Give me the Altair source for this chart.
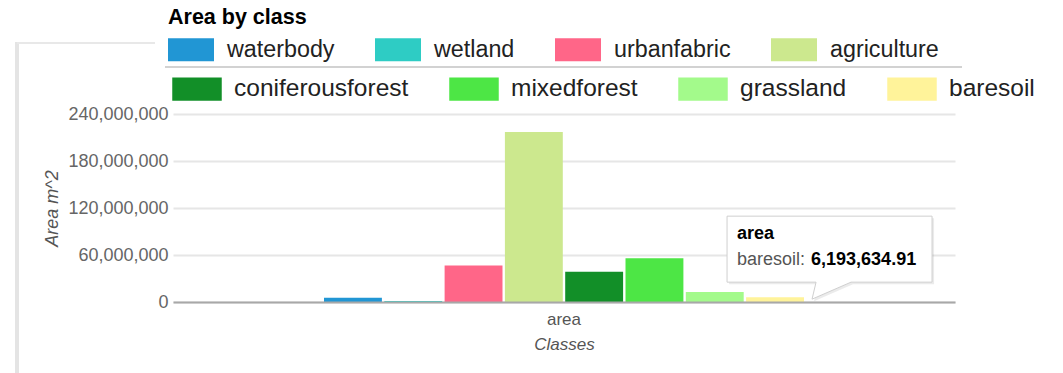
import altair as alt
import pandas as pd

# Land-cover classes and their total area (m^2)
classes = ["waterbody", "wetland", "urbanfabric", "agriculture",
           "coniferousforest", "mixedforest", "grassland", "baresoil"]
area_m2 = [5_500_000, 1_200_000, 46_500_000, 217_000_000,
           38_500_000, 56_000_000, 12_800_000, 6_193_634.91]
class_colors = ["#2196D4", "#2ECCC4", "#FF6688", "#CCE88E",
                "#128F28", "#4DE645", "#A3FA8B", "#FFF39A"]
y_ticks = [0, 60_000_000, 120_000_000, 180_000_000, 240_000_000]
group_name = "area"
hovered = "baresoil"

# the legend is laid out in two rows of four classes
row_one, row_two = classes[:4], classes[4:]
colors_one, colors_two = class_colors[:4], class_colors[4:]

df = pd.DataFrame({"group": group_name, "cls": classes, "value": area_m2})

FONT = "Liberation Sans"

x_enc = alt.X("group:N", title="Classes",
              scale=alt.Scale(paddingOuter=0.3146, paddingInner=0),
              axis=alt.Axis(labelAngle=0, ticks=False, domain=True,
                            domainColor="#a8a8a8", domainWidth=2,
                            labelFontSize=17, labelColor="#555",
                            labelPadding=9, titleFontSize=17,
                            titleFontStyle="italic", titleFontWeight="normal",
                            titleColor="#555", titlePadding=9, zindex=1))
xo_enc = alt.XOffset("cls:N", sort=classes,
                     scale=alt.Scale(domain=classes, paddingInner=0.04,
                                     paddingOuter=0))
y_enc = alt.Y("value:Q", title="Area m^2",
              scale=alt.Scale(domain=[0, 240_000_000], nice=False),
              axis=alt.Axis(values=y_ticks, format=",d", ticks=False,
                            domain=False, grid=True, gridColor="#e6e6e6",
                            gridWidth=2, labelFontSize=18,
                            labelColor="#666", labelPadding=5,
                            titleFontSize=18, titleFontStyle="italic",
                            titleFontWeight="normal", titleColor="#555",
                            titlePadding=6))

legend_common = dict(
    orient="none", direction="horizontal", columns=4,
    symbolStrokeWidth=0, symbolOpacity=1, labelColor="#222",
    labelFont=FONT, columnPadding=40, padding=0, labelLimit=400,
)

bars_one = alt.Chart(df).transform_filter(
    alt.FieldOneOfPredicate(field="cls", oneOf=row_one)
).mark_bar(opacity=1).encode(
    x=x_enc, xOffset=xo_enc, y=y_enc,
    color=alt.Color(
        "cls:N", sort=row_one,
        scale=alt.Scale(domain=row_one, range=colors_one),
        legend=alt.Legend(
            title="Area by class", legendX=-5, legendY=-107,
            symbolType="M-1,-0.5H1V0.5H-1Z", symbolSize=2116,
            labelFontSize=23.3, labelOffset=13,
            titleFont=FONT, titleFontSize=21.5, titleFontWeight="bold",
            titleColor="#000", titlePadding=-2, **legend_common,
        ),
    ),
)

bars_two = alt.Chart(df).transform_filter(
    alt.FieldOneOfPredicate(field="cls", oneOf=row_two)
).mark_bar(opacity=1).encode(
    x=x_enc, xOffset=xo_enc, y=y_enc,
    fill=alt.Fill(
        "cls:N", sort=row_two,
        scale=alt.Scale(domain=row_two, range=colors_two),
        legend=alt.Legend(
            title=None, legendX=-1, legendY=-50,
            symbolType="M-1,-0.47H1V0.47H-1Z", symbolSize=2450,
            labelFontSize=24.5, labelOffset=12, **legend_common,
        ),
    ),
)

hover = alt.Chart(df).transform_filter(alt.datum.cls == hovered)

# Tooltip callout anchored at the top of the hovered bar
callout = "M-48,-81H157V-15H76L37,2L41,-15H-48Z"
shadow = "M-46,-79H159V-13H78L39,4L43,-13H-46Z"

tip_shadow = hover.mark_point(shape=shadow, size=4, filled=True,
                              fill="#000", opacity=0.08, strokeWidth=0
                              ).encode(x="group:N", xOffset=xo_enc, y="value:Q")
tip_box = hover.mark_point(shape=callout, size=4, filled=True, fill="white",
                           stroke="#cfcfcf", strokeWidth=1, opacity=1
                           ).encode(x="group:N", xOffset=xo_enc, y="value:Q")
tip_head = hover.mark_text(align="left", baseline="alphabetic", dx=-38,
                           dy=-58, fontSize=18, fontWeight="bold",
                           color="#000", font=FONT
                           ).encode(x="group:N", xOffset=xo_enc, y="value:Q",
                                    text="group:N")
tip_name = hover.transform_calculate(lbl=alt.datum.cls + ":").mark_text(
    align="left", baseline="alphabetic", dx=-38, dy=-32, fontSize=18,
    color="#555", font=FONT
).encode(x="group:N", xOffset=xo_enc, y="value:Q", text="lbl:N")
tip_value = hover.mark_text(align="left", baseline="alphabetic", dx=36,
                            dy=-32, fontSize=18, fontWeight="bold",
                            color="#000", font=FONT
                            ).encode(x="group:N", xOffset=xo_enc,
                                     y="value:Q",
                                     text=alt.Text("value:Q", format=",.2f"))

# Frame edges and legend row separator
frame_left = alt.Chart(df).mark_rule(color="#e4e4e4", strokeWidth=3).encode(
    x=alt.value(-156), y=alt.value(-72), y2=alt.value(262))
frame_top = alt.Chart(df).mark_rule(color="#e8e8e8", strokeWidth=2).encode(
    x=alt.value(-156), x2=alt.value(-18), y=alt.value(-71))
separator = alt.Chart(df).mark_rule(color="#d2d2d2", strokeWidth=2).encode(
    x=alt.value(-8), x2=alt.value(789), y=alt.value(-47))

chart = alt.layer(
    frame_left, frame_top, separator, bars_one, bars_two,
    tip_shadow, tip_box, tip_head, tip_name, tip_value
).resolve_scale(
    color="independent", fill="independent"
).properties(
    width=782, height=188,
    autosize=alt.AutoSizeParams(type="none"),
    padding={"left": 173, "top": 114, "right": 108, "bottom": 71},
    background="white",
).configure(font=FONT).configure_view(stroke=None)

chart.save("out.html", embed_options={"renderer": "svg", "actions": False})
